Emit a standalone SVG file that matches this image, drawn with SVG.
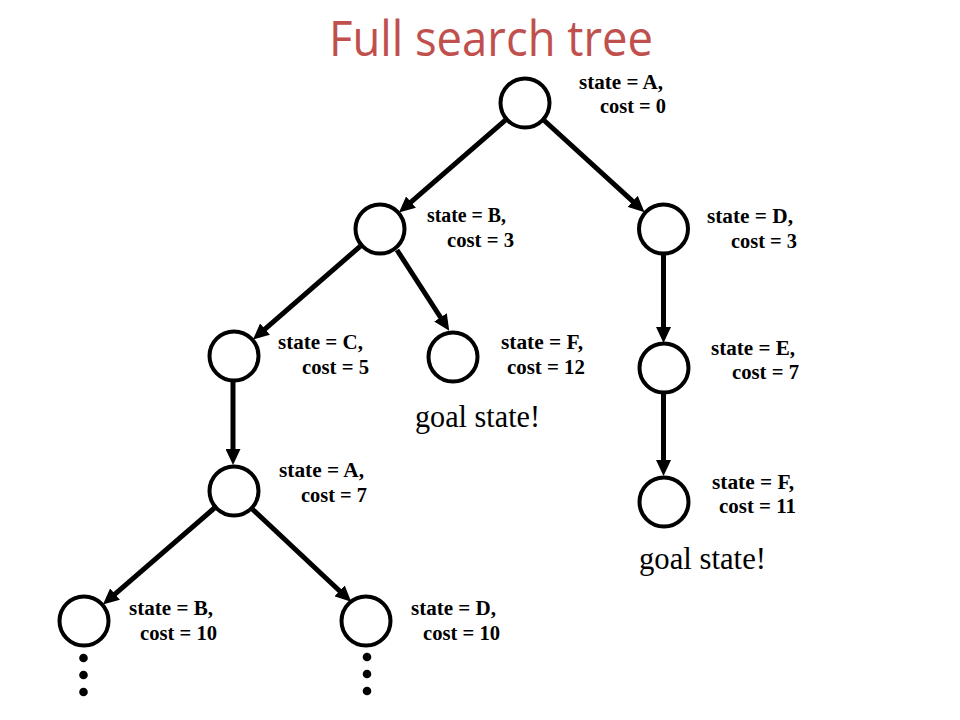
<svg xmlns="http://www.w3.org/2000/svg" width="960" height="720" viewBox="0 0 960 720">
<defs>
<style>
.node{fill:#fff;stroke:#000;stroke-width:4}
.edge{stroke:#000;stroke-width:5;fill:none;marker-end:url(#ah)}
.lbl{font-family:"Liberation Serif","Times New Roman",serif;font-weight:bold;font-size:20px;fill:#000}
.goal{font-family:"Liberation Serif","Times New Roman",serif;font-size:31px;fill:#000}
.title{font-family:"Open Sans","Noto Sans",sans-serif;font-size:50px;fill:#C0504D}
.dot{fill:#000}
</style>
<marker id="ah" markerUnits="userSpaceOnUse" markerWidth="16" markerHeight="15" refX="2" refY="7.5" orient="auto">
<path d="M0,0 L16,7.5 L0,15 z" fill="#000"/>
</marker>
</defs>
<rect width="960" height="720" fill="#fff"/>
<text class="title" x="329" y="56" textLength="324" lengthAdjust="spacingAndGlyphs">Full search tree</text>

<g id="edges">
<line class="edge" x1="505.4" y1="120.1" x2="409.5" y2="203.4"/>
<line class="edge" x1="544.2" y1="120.5" x2="634.2" y2="202.7"/>
<line class="edge" x1="360.4" y1="246.1" x2="263.5" y2="330.4"/>
<line class="edge" x1="397" y1="250" x2="441.6" y2="319"/>
<line class="edge" x1="663.5" y1="255" x2="663.5" y2="329"/>
<line class="edge" x1="233" y1="382" x2="233" y2="451"/>
<line class="edge" x1="663.5" y1="394" x2="663.5" y2="462"/>
<line class="edge" x1="214.4" y1="508" x2="113.5" y2="595.4"/>
<line class="edge" x1="252.5" y1="509.2" x2="341" y2="592.2"/>
</g>

<g id="nA"><circle class="node" cx="525" cy="103" r="24.5"/>
<text class="lbl" x="579" y="89" textLength="84" lengthAdjust="spacingAndGlyphs">state = A,</text>
<text class="lbl" x="600" y="113" textLength="66" lengthAdjust="spacingAndGlyphs">cost = 0</text></g>

<g id="nB"><circle class="node" cx="380" cy="229" r="24.5"/>
<text class="lbl" x="427" y="222" textLength="79" lengthAdjust="spacingAndGlyphs">state = B,</text>
<text class="lbl" x="447" y="247" textLength="67" lengthAdjust="spacingAndGlyphs">cost = 3</text></g>

<g id="nD"><circle class="node" cx="663.5" cy="229" r="24.5"/>
<text class="lbl" x="707" y="223" textLength="86" lengthAdjust="spacingAndGlyphs">state = D,</text>
<text class="lbl" x="731" y="248" textLength="66" lengthAdjust="spacingAndGlyphs">cost = 3</text></g>

<g id="nC"><circle class="node" cx="234" cy="356" r="24.5"/>
<text class="lbl" x="278" y="349" textLength="85" lengthAdjust="spacingAndGlyphs">state = C,</text>
<text class="lbl" x="302" y="374" textLength="67" lengthAdjust="spacingAndGlyphs">cost = 5</text></g>

<g id="nF1"><circle class="node" cx="453" cy="357" r="24.5"/>
<text class="lbl" x="501" y="349" textLength="82" lengthAdjust="spacingAndGlyphs">state = F,</text>
<text class="lbl" x="507" y="374" textLength="78" lengthAdjust="spacingAndGlyphs">cost = 12</text>
<text class="goal" x="415" y="427" textLength="125" lengthAdjust="spacingAndGlyphs">goal state!</text></g>

<g id="nE"><circle class="node" cx="664" cy="368" r="24.5"/>
<text class="lbl" x="711" y="355" textLength="84" lengthAdjust="spacingAndGlyphs">state = E,</text>
<text class="lbl" x="732" y="379" textLength="67" lengthAdjust="spacingAndGlyphs">cost = 7</text></g>

<g id="nA2"><circle class="node" cx="234" cy="491" r="24.5"/>
<text class="lbl" x="279" y="477" textLength="85" lengthAdjust="spacingAndGlyphs">state = A,</text>
<text class="lbl" x="301" y="502" textLength="66" lengthAdjust="spacingAndGlyphs">cost = 7</text></g>

<g id="nF2"><circle class="node" cx="664" cy="502" r="24.5"/>
<text class="lbl" x="712" y="489" textLength="82" lengthAdjust="spacingAndGlyphs">state = F,</text>
<text class="lbl" x="719" y="513" textLength="77" lengthAdjust="spacingAndGlyphs">cost = 11</text>
<text class="goal" x="639" y="569" textLength="127" lengthAdjust="spacingAndGlyphs">goal state!</text></g>

<g id="nB2"><circle class="node" cx="84" cy="621" r="24.5"/>
<text class="lbl" x="129" y="615" textLength="84" lengthAdjust="spacingAndGlyphs">state = B,</text>
<text class="lbl" x="140" y="640" textLength="77" lengthAdjust="spacingAndGlyphs">cost = 10</text>
<circle class="dot" cx="83.5" cy="658" r="4.3"/>
<circle class="dot" cx="83.5" cy="675" r="4.3"/>
<circle class="dot" cx="83.5" cy="692" r="4.3"/></g>

<g id="nD2"><circle class="node" cx="366" cy="621" r="24.5"/>
<text class="lbl" x="411" y="615" textLength="85" lengthAdjust="spacingAndGlyphs">state = D,</text>
<text class="lbl" x="423" y="640" textLength="77" lengthAdjust="spacingAndGlyphs">cost = 10</text>
<circle class="dot" cx="367" cy="657" r="4.3"/>
<circle class="dot" cx="367" cy="674" r="4.3"/>
<circle class="dot" cx="367" cy="691" r="4.3"/></g>
</svg>
